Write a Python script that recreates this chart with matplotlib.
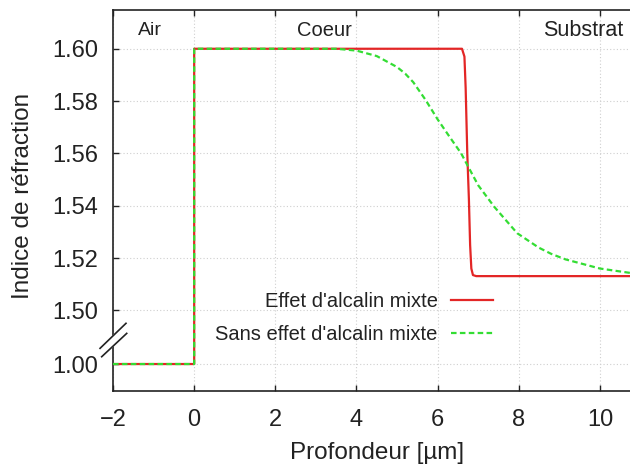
import numpy as np
import matplotlib
matplotlib.use('Agg')
import matplotlib.pyplot as plt


plt.rcParams['font.family'] = ['Liberation Sans', 'DejaVu Sans']

# data (depth in um, refractive index)
red_x = [-2, 0, 0, 6.60, 6.66, 6.69, 6.73, 6.77, 6.80, 6.83, 6.87, 6.95, 10.8]
red_n = [1.00, 1.00, 1.60, 1.600, 1.597, 1.585, 1.560, 1.5425, 1.525, 1.516,
         1.5135, 1.5131, 1.5131]
green_x = [-2, 0, 0, 3.5, 4.0, 4.5, 5.0, 5.2, 5.4, 5.7, 6.0, 6.3, 6.58, 6.75,
           7.0, 7.4, 7.96, 8.49, 8.8, 9.15, 10.0, 10.8]
green_n = [1.00, 1.00, 1.60, 1.600, 1.5993, 1.5972, 1.5930, 1.5905, 1.5872,
           1.5805, 1.5730, 1.5662, 1.5600, 1.5550, 1.5478, 1.5395, 1.5295,
           1.5240, 1.5216, 1.5195, 1.5160, 1.5142]
labels = ["Effet d'alcalin mixte", "Sans effet d'alcalin mixte"]
zones = ['Air', 'Coeur', 'Substrat']
zone_x = [-1.09, 3.21, 9.58]
yticks = [1.00, 1.50, 1.52, 1.54, 1.56, 1.58, 1.60]
xticks = [-2, 0, 2, 4, 6, 8, 10]


# broken axis: 1.00 sits just below 1.50, the gap is squeezed
def fwd(y):
    y = np.asarray(y, dtype=float)
    return np.where(y <= 1.0, y + 0.4795,
                    np.where(y >= 1.5, y, 1.4795 + (y - 1.0) * 0.041))


def inv(t):
    t = np.asarray(t, dtype=float)
    return np.where(t <= 1.4795, t - 0.4795,
                    np.where(t >= 1.5, t, 1.0 + (t - 1.4795) / 0.041))


fig = plt.figure(figsize=(6.3, 4.71), dpi=100)
ax = fig.add_axes([0.1794, 0.1699, 0.8206, 0.8099])
ax.set_yscale('function', functions=(fwd, inv))

ax.plot(red_x, red_n, color='#e32626', lw=1.6, label=labels[0], zorder=3)
ax.plot(green_x, green_n, color='#33dd33', lw=1.6, dashes=(2.5, 1.5),
        label=labels[1], zorder=4)

ax.set_xlim(-2, 10.74)
ax.set_ylim(0.9897, 1.615)
ax.set_xticks(xticks)
ax.set_xticklabels(['\u22122' if v < 0 else str(v) for v in xticks])
ax.set_yticks(yticks)
ax.set_yticklabels(['%.2f' % v for v in yticks])
ax.minorticks_off()
ax.tick_params(direction='in', length=4, width=1, labelsize=17, pad=10.5,
               top=True, right=False, colors='#222222')
ax.tick_params(axis='x', pad=13)
ax.grid(True, color='#cfcfcf', lw=0.8, linestyle=(0, (1, 2)))

ax.spines['right'].set_visible(False)
for s in ['left', 'top', 'bottom']:
    ax.spines[s].set_linewidth(1.2)
    ax.spines[s].set_color('#222222')

ax.set_xlabel('Profondeur [\u00b5m]', fontsize=17.5, color='#222222')
ax.set_ylabel('Indice de r\u00e9fraction', fontsize=17.5, color='#222222')
ax.xaxis.set_label_coords(0.51, -0.135)
ax.yaxis.set_label_coords(-0.152, 0.51)

sizes = [14, 14.5, 15.5]
for name, xx, fs in zip(zones, zone_x, sizes):
    ax.text(xx, 1.6069, name, fontsize=fs, ha='center', va='center',
            color='#222222')

# break marks on the left spine
bx = [[-0.0251, 0.0251], [-0.0219, 0.0265]]
by = [[0.1118, 0.1774], [0.0898, 0.1510]]
ax.fill([bx[0][0], bx[0][1], bx[1][1], bx[1][0]],
        [by[0][0], by[0][1], by[1][1], by[1][0]],
        color='white', transform=ax.transAxes, clip_on=False, zorder=5)
for xs, ys in zip(bx, by):
    ax.plot(xs, ys, color='#222222', lw=1.2, transform=ax.transAxes,
            clip_on=False, zorder=6)

leg = ax.legend(loc='upper right', bbox_to_anchor=(0.7825, 0.380),
                bbox_transform=fig.transFigure, frameon=False,
                markerfirst=False, fontsize=14.5, borderpad=0,
                borderaxespad=0, handlelength=2.1, handletextpad=0.64,
                labelspacing=0.68)
for t in leg.get_texts():
    t.set_color('#222222')

plt.savefig('out.png', dpi=100)
plt.close()
